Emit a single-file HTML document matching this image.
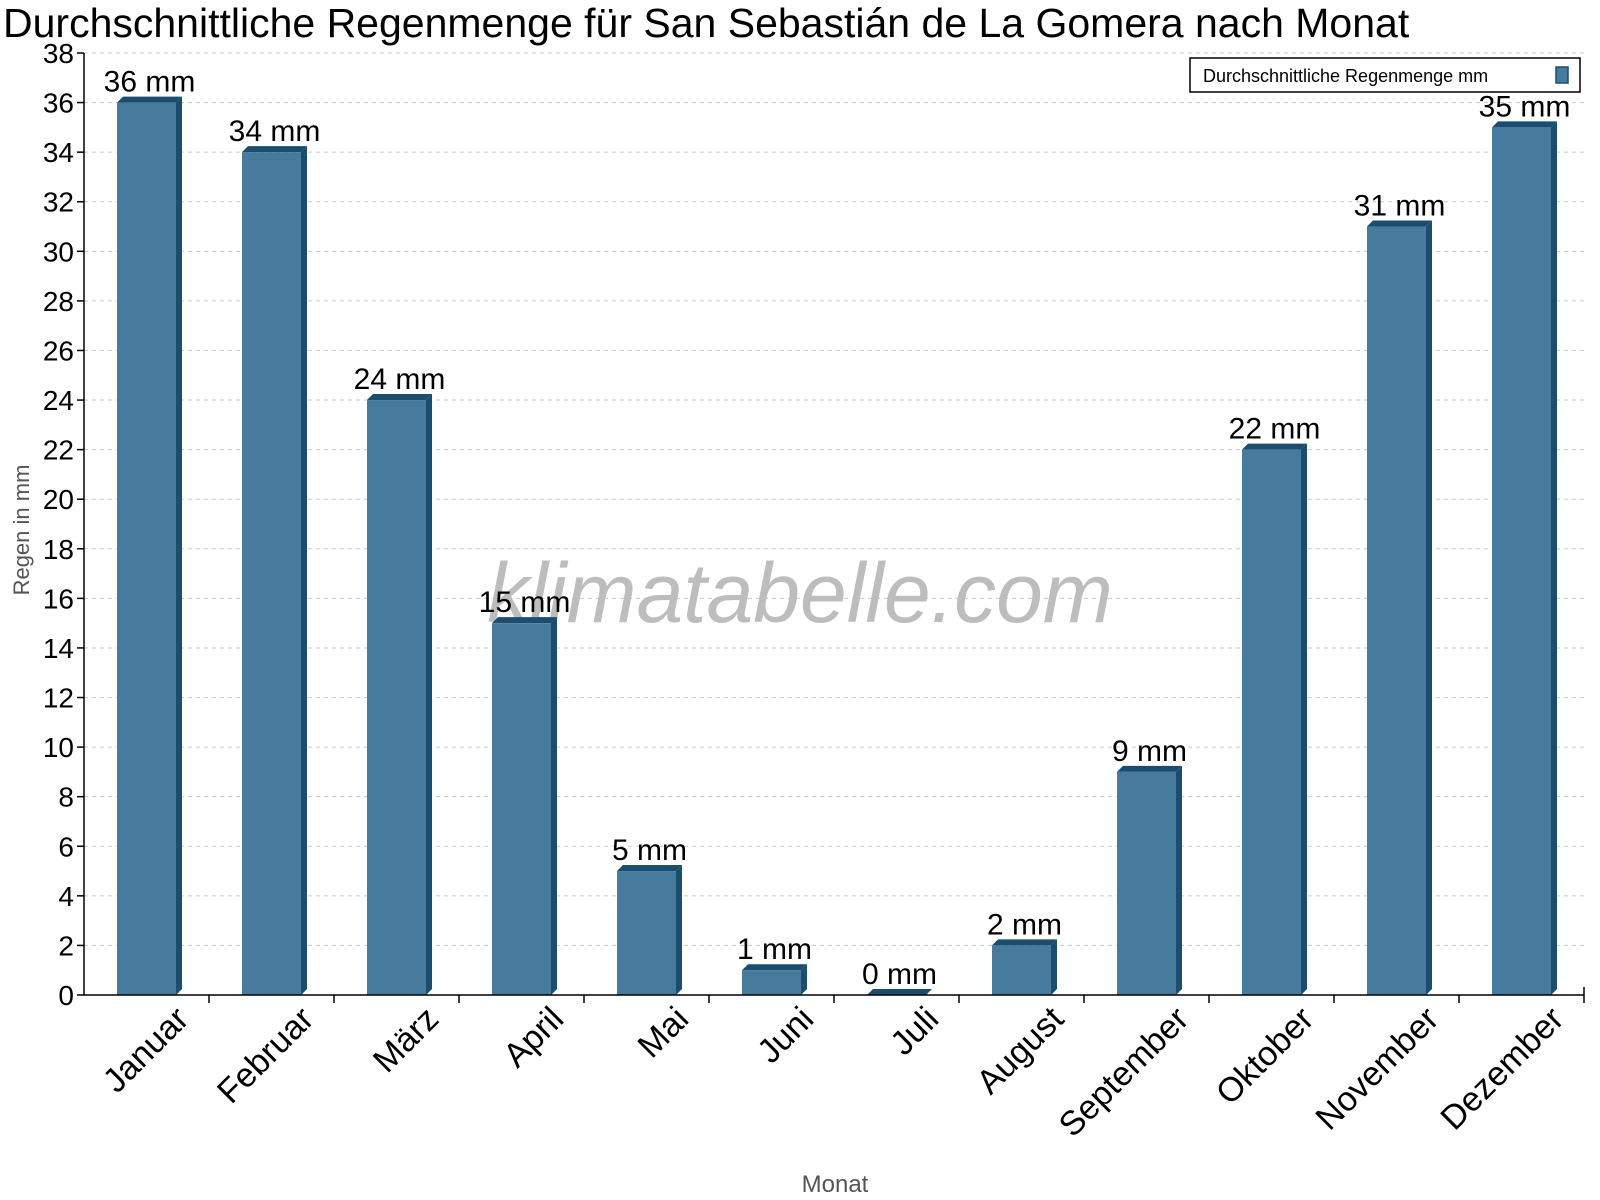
<!DOCTYPE html>
<html><head><meta charset="utf-8"><style>
body{margin:0;background:#fff;}
svg{display:block;font-family:"Liberation Sans",sans-serif;}
</style></head><body>
<svg id="chart" width="1600" height="1200" xmlns="http://www.w3.org/2000/svg">
<text x="3" y="37" font-size="41">Durchschnittliche Regenmenge für San Sebastián de La Gomera nach Monat</text>
<g id="grid"></g>
<text x="800" y="622" font-size="84" font-style="italic" fill="#bdbdbd" text-anchor="middle">klimatabelle.com</text>
<g id="bars"></g>
<g id="axes"></g>
<text transform="translate(29,530) rotate(-90)" font-size="22" fill="#555" text-anchor="middle">Regen in mm</text>
<text x="835" y="1192" font-size="24" fill="#555" text-anchor="middle">Monat</text>
<g>
<rect x="1190" y="58" width="390" height="34" fill="#fff" stroke="#000" stroke-width="1.5"/>
<text x="1203" y="82" font-size="18">Durchschnittliche Regenmenge mm</text>
<rect x="1556" y="67" width="12" height="16" fill="#467b9e" stroke="#1a4d6e" stroke-width="1.5"/>
</g>
</svg>
<script>
const categories=["Januar","Februar","März","April","Mai","Juni","Juli","August","September","Oktober","November","Dezember"];
const values=[36,34,24,15,5,1,0,2,9,22,31,35];
const yTicks=[0,2,4,6,8,10,12,14,16,18,20,22,24,26,28,30,32,34,36,38];
const NS="http://www.w3.org/2000/svg";
const x0=84,x1=1584,y0=995,y38=53,yMax=38;
const band=(x1-x0)/categories.length;
const y=v=>y0-(y0-y38)*v/yMax;
function mk(t,a,p){const e=document.createElementNS(NS,t);for(const k in a)e.setAttribute(k,a[k]);p.appendChild(e);return e;}
const grid=document.getElementById('grid'),bars=document.getElementById('bars'),axes=document.getElementById('axes');
yTicks.forEach(t=>{
  if(t>0){const g=mk('line',{x1:x0,x2:x1,y1:y(t),y2:y(t),stroke:'#c8c8c8','stroke-dasharray':'4,4'},grid);
  
  }
  mk('line',{x1:x0-7,x2:x0,y1:y(t),y2:y(t),stroke:'#000','stroke-width':1.5},axes);
  const l=mk('text',{x:x0-10,y:y(t)+10,'font-size':28,'text-anchor':'end'},axes);l.textContent=t;
  
  
});
mk('line',{x1:x0,x2:x0,y1:y38,y2:y0,stroke:'#000','stroke-width':1.5},axes);
mk('line',{x1:x0,x2:x1,y1:y0,y2:y0,stroke:'#000','stroke-width':1.5},axes);
mk('line',{x1:x1,x2:x1,y1:y0-8,y2:y0,stroke:'#000','stroke-width':1.5},axes);
const bw=59,d=6;
categories.forEach((c,i)=>{
  const bx=x0+i*band+33,by=y(values[i]);
  const g=mk('g',{},bars);
  
  
  mk('polygon',{points:`${bx+bw},${by} ${bx+bw+d},${by-d} ${bx+bw+d},${y0-d} ${bx+bw},${y0}`,fill:'#1a4d6e'},g);
  mk('polygon',{points:`${bx},${by} ${bx+d},${by-d} ${bx+bw+d},${by-d} ${bx+bw},${by}`,fill:'#1a4d6e'},g);
  if(values[i]>0)mk('rect',{x:bx,y:by,width:bw,height:y0-by,fill:'#467b9e'},g);
  const vl=mk('text',{x:bx+(bw+d)/2,y:by-11,'font-size':30,'text-anchor':'middle'},bars);vl.textContent=values[i]+' mm';
  
  
  mk('line',{x1:x0+(i+1)*band,x2:x0+(i+1)*band,y1:y0,y2:y0+8,stroke:'#000','stroke-width':1.5},axes);
  const cx=x0+i*band+band/2+44,cy=y0+26;
  const xl=mk('text',{x:cx,y:cy,'font-size':34,'text-anchor':'end',transform:`rotate(-45 ${cx} ${cy})`},axes);xl.textContent=c;
  
  
});
</script>
</body></html>
